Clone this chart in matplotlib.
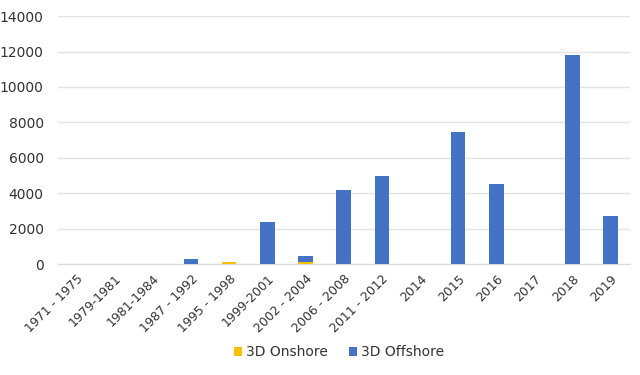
import numpy as np
import matplotlib.pyplot as plt

periods = ['1971 - 1975', '1979-1981', '1981-1984', '1987 - 1992', '1995 - 1998',
           '1999-2001', '2002 - 2004', '2006 - 2008', '2011 - 2012', '2014',
           '2015', '2016', '2017', '2018', '2019']
onshore = [0, 0, 0, 0, 110, 0, 90, 0, 0, 0, 0, 0, 0, 0, 0]
offshore = [0, 0, 0, 290, 0, 2400, 340, 4200, 4980, 0, 7450, 4500, 0, 11830, 2720]

fig = plt.figure(figsize=(6.4, 3.75), dpi=100)
ax = fig.add_axes([0.09, 0.296, 0.894, 0.661])

x = np.arange(len(periods))
ax.bar(x, onshore, width=0.38, color='#FFC000', label='3D Onshore', zorder=3)
ax.bar(x, offshore, width=0.38, bottom=onshore, color='#4472C4', label='3D Offshore', zorder=3)

ax.set_xlim(-0.5, len(periods) - 0.5)
ax.set_ylim(0, 14000)
ax.set_yticks(np.arange(0, 14001, 2000))
ax.yaxis.grid(True, color='#e3e3e3', linewidth=1, zorder=0)
ax.set_xticks(x)
ax.set_xticklabels(periods, rotation=45, ha='right', rotation_mode='anchor', fontsize=9, color='#333333')
ax.tick_params(axis='y', labelsize=10, colors='#333333', length=0, pad=10)
ax.tick_params(axis='x', length=0, pad=6)
for s in ['top', 'right', 'left']:
    ax.spines[s].set_visible(False)
ax.spines['bottom'].set_color('#d9d9d9')

fig.legend(*ax.get_legend_handles_labels(), loc='center', bbox_to_anchor=(0.53, 0.06), ncol=2,
           frameon=False, fontsize=10, handlelength=0.6, handleheight=0.6, columnspacing=1.5,
           handletextpad=0.3, labelcolor='#333333')

fig.savefig('out.png', dpi=100)
